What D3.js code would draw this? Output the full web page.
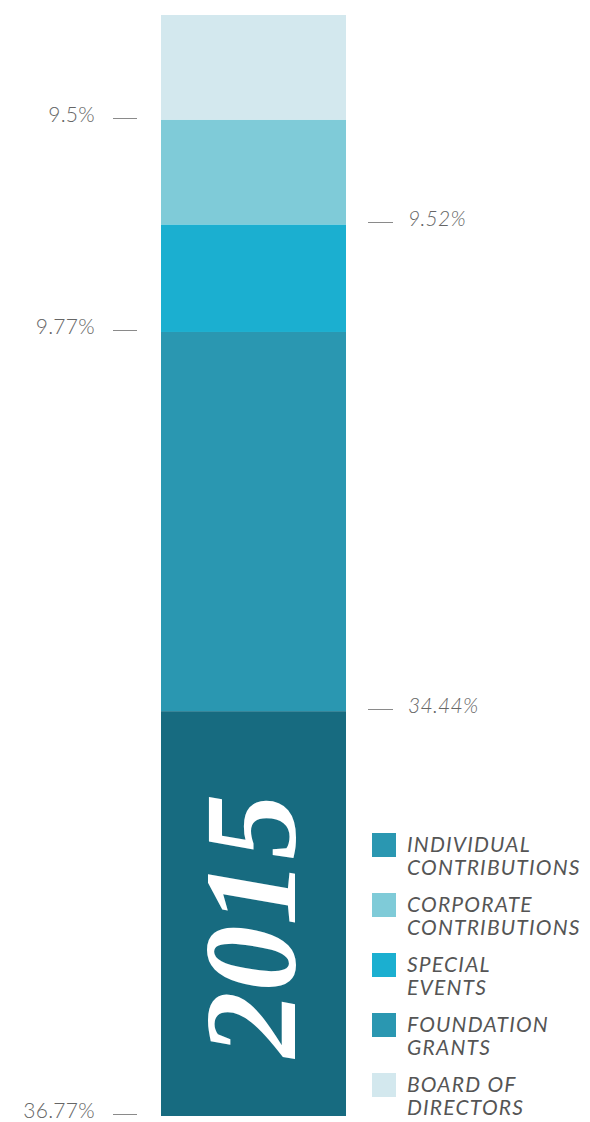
<!DOCTYPE html>
<html>
<head>
<meta charset="utf-8">
<script src="https://cdn.jsdelivr.net/npm/d3@7"></script>
<style>
  html, body { margin: 0; padding: 0; background: #fff; }
  svg { display: block; }
  .pct { font-family: Lato, "Open Sans", sans-serif; font-weight: 300; fill: #666; font-size: 21px; letter-spacing: 0.3px; }
  .legend-text { font-family: Lato, "Open Sans", sans-serif; font-weight: 400; font-style: italic; fill: #555; font-size: 21px; letter-spacing: 1.2px; }
  .year { font-family: "Liberation Serif", "DejaVu Serif", serif; font-weight: bold; font-style: italic; fill: #fff; font-size: 132px; }
</style>
</head>
<body>
<svg id="chart"></svg>
<script>
// stack order, bottom to top
const keys = ['individual', 'foundation', 'special', 'corporate', 'board']
const values = [36.77, 34.44, 9.77, 9.52, 9.5]
const valueLabels = ['36.77%', '34.44%', '9.77%', '9.52%', '9.5%']
const legendKeys = ['individual', 'corporate', 'special', 'foundation', 'board']
const legendLabels = [
  ['INDIVIDUAL', 'CONTRIBUTIONS'],
  ['CORPORATE', 'CONTRIBUTIONS'],
  ['SPECIAL', 'EVENTS'],
  ['FOUNDATION', 'GRANTS'],
  ['BOARD OF', 'DIRECTORS']
]
const yearLabel = '2015'

const width = 590
const height = 1122
const barLeft = 161
const barRight = 346

const color = d3.scaleOrdinal()
  .domain(keys)
  .range(['#176b80', '#2a97b1', '#1bafd0', '#7fcbd8', '#d3e8ee'])

// legend swatch for individual uses the lighter teal in the original
const legendColor = k => (k === 'individual' ? '#2a97b1' : color(k))

const svg = d3.select('#chart')
  .attr('width', width)
  .attr('height', height)

const y = d3.scaleLinear()
  .domain([0, 100])
  .range([1116, 15])

const row = {}
keys.forEach((k, i) => { row[k] = values[i] })
const layers = d3.stack().keys(keys)([row])

// segments
svg.append('g')
  .selectAll('rect')
  .data(layers)
  .enter()
  .append('rect')
  .attr('x', barLeft)
  .attr('width', barRight - barLeft)
  .attr('y', d => y(d[0][1]))
  .attr('height', d => y(d[0][0]) - y(d[0][1]))
  .attr('fill', d => color(d.key))

// value labels at the bottom edge of each segment, alternating sides
const labels = svg.append('g')
layers.forEach((layer, i) => {
  const yy = Math.round(y(layer[0][0])) - 1.5
  const left = i % 2 === 0
  labels.append('line')
    .attr('x1', left ? 113 : 368)
    .attr('x2', left ? 137 : 393)
    .attr('y1', yy)
    .attr('y2', yy)
    .attr('stroke', '#8a8a8a')
    .attr('stroke-width', 1)
  labels.append('text')
    .attr('class', 'pct')
    .attr('x', left ? 95 : 408)
    .attr('y', yy + 3)
    .attr('text-anchor', left ? 'end' : 'start')
    .style('font-style', left ? 'normal' : 'italic')
    .text(valueLabels[i])
})

// year
const bottom = layers[0][0]
svg.append('text')
  .attr('class', 'year')
  .attr('transform', `translate(295,${(y(bottom[0]) + y(bottom[1])) / 2 + 12}) rotate(-90)`)
  .attr('text-anchor', 'middle')
  .text(yearLabel)

// legend
const legend = svg.append('g')
  .selectAll('g')
  .data(legendKeys)
  .enter()
  .append('g')
  .attr('transform', (d, i) => `translate(372,${833 + i * 60})`)

legend.append('rect')
  .attr('width', 24)
  .attr('height', 24)
  .attr('fill', d => legendColor(d))

legend.append('text')
  .attr('class', 'legend-text')
  .attr('x', 35)
  .selectAll('tspan')
  .data((d, i) => legendLabels[i])
  .enter()
  .append('tspan')
  .attr('x', 35)
  .attr('y', (d, i) => 19 + i * 23)
  .text(d => d)
</script>
</body>
</html>
